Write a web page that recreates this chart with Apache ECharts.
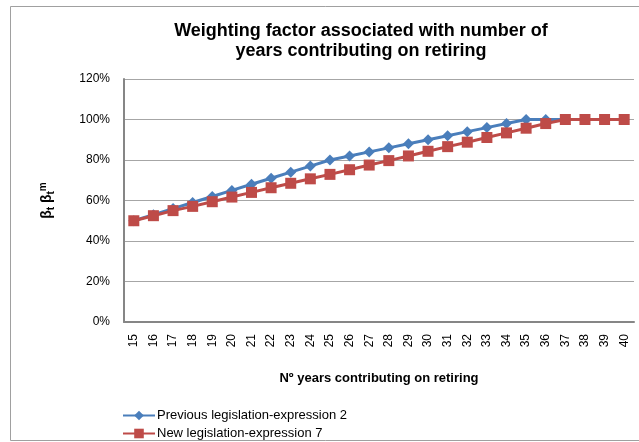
<!DOCTYPE html>
<html>
<head>
<meta charset="utf-8">
<script src="https://cdn.jsdelivr.net/npm/echarts@6/dist/echarts.min.js"></script>
<style>
  html, body { margin: 0; padding: 0; background: #fff; }
  #main { width: 639px; height: 442px; }
</style>
</head>
<body>
<div id="main"></div>
<script>
// years contributing
var years = ['15','16','17','18','19','20','21','22','23','24','25','26','27','28','29','30','31','32','33','34','35','36','37','38','39','40'];
// weighting factor, %
var previousExpr2 = [50,53,56,59,62,65,68,71,74,77,80,82,84,86,88,90,92,94,96,98,100,100,100,100,100,100];
var newExpr7 = [50,52.5,55,57.1,59.4,61.7,64,66.3,68.5,70.7,72.9,75.2,77.5,79.7,82,84.3,86.6,88.8,91.1,93.4,95.7,98,100,100,100,100];
var yTicks = [0,20,40,60,80,100,120];

var labelFont = 'Liberation Sans';

var option = {
	animation: false,
	backgroundColor: '#fff',
	title: {
		text: 'Weighting factor associated with number of\nyears contributing on retiring',
		left: 356,
		top: 16,
		textAlign: 'center',
		textStyle: { fontFamily: labelFont, fontSize: 18, fontWeight: 'bold', color: '#000', lineHeight: 20 }
	},
	graphic: [{
		type: 'rect',
		shape: { x: 10.5, y: 6.5, width: 640, height: 434 },
		style: { fill: 'none', stroke: '#a0a0a0', lineWidth: 1 },
		silent: true
	}],
	legend: {
		orient: 'vertical',
		left: 122,
		top: 409,
		padding: 0,
		itemGap: 5,
		itemWidth: 32,
		itemHeight: 12,
		textStyle: { fontFamily: labelFont, fontSize: 13, color: '#000', padding: [0, 0, 0, -3] },
		data: ['Previous legislation-expression 2', 'New legislation-expression 7']
	},
	grid: { left: 124, right: 5, top: 79, bottom: 120 },
	xAxis: {
		type: 'category',
		data: years,
		boundaryGap: true,
		name: 'Nº years contributing on retiring',
		nameLocation: 'middle',
		nameGap: 50,
		nameTextStyle: { fontFamily: labelFont, fontSize: 13, fontWeight: 'bold', color: '#000' },
		axisLine: { lineStyle: { color: '#868686', width: 2 } },
		axisTick: { show: false },
		axisLabel: { rotate: 90, margin: 12, fontFamily: labelFont, fontSize: 12, color: '#000' }
	},
	yAxis: {
		type: 'value',
		min: 0,
		max: 120,
		interval: 20,
		name: 'β{sub|t} β{sub|t}{sup|m}',
		nameLocation: 'middle',
		nameRotate: 90,
		nameGap: 68,
		nameTextStyle: {
			fontFamily: labelFont, fontSize: 14, fontWeight: 'bold', color: '#000',
			rich: {
				sub: { fontFamily: labelFont, fontSize: 10, fontWeight: 'bold', verticalAlign: 'bottom', padding: [6, 0, 0, 0] },
				sup: { fontFamily: labelFont, fontSize: 10, fontWeight: 'bold', verticalAlign: 'top', padding: [0, 0, 8, 0] }
			}
		},
		axisLine: { show: true, lineStyle: { color: '#868686', width: 2 } },
		axisTick: { show: false },
		axisLabel: {
			margin: 14,
			fontFamily: labelFont, fontSize: 12, color: '#000',
			formatter: function (v) { return yTicks.indexOf(v) >= 0 ? v + '%' : ''; }
		},
		splitLine: { lineStyle: { color: '#a6a6a6', width: 1 } }
	},
	series: [{
		name: 'Previous legislation-expression 2',
		type: 'line',
		data: previousExpr2,
		symbol: 'diamond',
		symbolSize: 11,
		itemStyle: { color: '#4a7ebb' },
		lineStyle: { color: '#4a7ebb', width: 3 },
		z: 2
	}, {
		name: 'New legislation-expression 7',
		type: 'line',
		data: newExpr7,
		symbol: 'rect',
		symbolSize: 11,
		itemStyle: { color: '#be4b48' },
		lineStyle: { color: '#be4b48', width: 3 },
		z: 3
	}]
};

var myChart = echarts.init(document.getElementById('main'));
myChart.setOption(option);
</script>
</body>
</html>
